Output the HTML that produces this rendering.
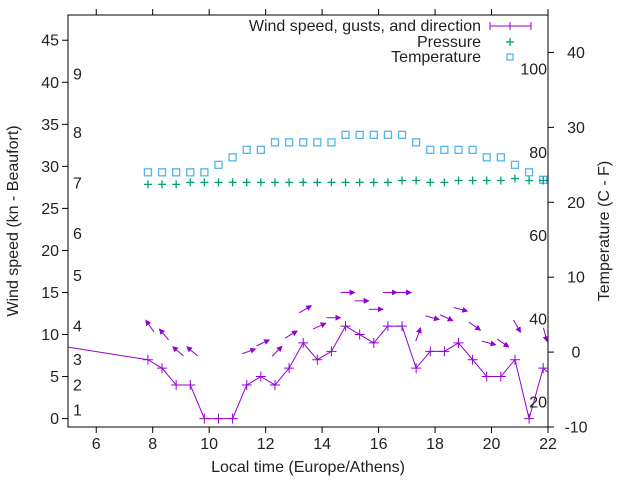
<!DOCTYPE html>
<html><head><meta charset="utf-8">
<style>
html,body{margin:0;padding:0;background:#fff;}
svg text{font-family:"Liberation Sans",sans-serif;font-size:16px;fill:#222;}
</style></head>
<body>
<svg id="chart" width="640" height="480" viewBox="0 0 640 480" xmlns="http://www.w3.org/2000/svg">
<defs>
<clipPath id="plotclip"><rect x="68" y="15" width="480" height="412"/></clipPath>
<marker id="ah" markerWidth="6" markerHeight="6" refX="5" refY="3" orient="auto" markerUnits="userSpaceOnUse">
<path d="M0,0 L6,3 L0,6 Z" fill="#9400d3"/>
</marker>
</defs>
<rect x="68" y="15" width="480" height="412" fill="none" stroke="#000" stroke-width="1"/>
<text x="308" y="472" text-anchor="middle">Local time (Europe/Athens)</text>
<text x="0" y="0" text-anchor="middle" transform="translate(18,221) rotate(-90)">Wind speed (kn - Beaufort)</text>
<text x="0" y="0" text-anchor="middle" transform="translate(609,231) rotate(-90)">Temperature (C - F)</text>
<g id="legend">
<text x="481" y="31" text-anchor="end">Wind speed, gusts, and direction</text>
<g stroke="#9400d3" stroke-width="1">
<line x1="490" y1="26" x2="531" y2="26"/><line x1="490" y1="22" x2="490" y2="30"/><line x1="531" y1="22" x2="531" y2="30"/>
<line x1="510" y1="22" x2="510" y2="30"/></g>
<text x="481" y="47" text-anchor="end">Pressure</text>
<g stroke="#009e73" stroke-width="1.3"><line x1="506" y1="42" x2="514" y2="42"/><line x1="510" y1="38" x2="510" y2="46"/></g>
<text x="481" y="62" text-anchor="end">Temperature</text>
<rect x="507" y="54" width="6" height="6" fill="none" stroke="#56b4e9" stroke-width="1.3"/>
</g>
<g id="marks" clip-path="url(#plotclip)"></g>
<g id="axes"></g>
</svg>
<script>
// ---- data ----
const times = [7.83,8.33,8.83,9.33,9.83,10.33,10.83,11.33,11.83,12.33,12.83,13.33,13.83,14.33,14.83,15.33,15.83,16.33,16.83,17.33,17.83,18.33,18.83,19.33,19.83,20.33,20.83,21.33,21.83];
const windSpeed = [7,6,4,4,0,0,0,4,5,4,6,9,7,8,11,10,9,11,11,6,8,8,9,7,5,5,7,0,6];
const gusts = [11,10,8,8,null,null,null,8,9,8,10,13,11,12,15,14,13,15,15,10,12,12,13,11,9,9,11,null,10];
const windBearing = [325,320,310,310,null,null,null,70,65,45,60,60,65,90,90,90,90,90,90,20,105,115,105,125,105,125,150,null,165];
const pressure = [1013,1013,1013,1014,1014,1014,1014,1014,1014,1014,1014,1014,1014,1014,1014,1014,1014,1014,1015,1015,1014,1014,1015,1015,1015,1015,1016,1015,1015];
const temperature = [24,24,24,24,24,25,26,27,27,28,28,28,28,28,29,29,29,29,29,28,27,27,27,27,26,26,25,24,23];
const windBefore = [4.8, 8.6];
const windAfter = [22.33, 4.5];
const xTicks = [6,8,10,12,14,16,18,20,22];
const yTicks = [0,5,10,15,20,25,30,35,40,45];
const y2Ticks = [-10,0,10,20,30,40];
const fahrenheitLabels = [20,40,60,80,100];
const beaufortLabels = [1,2,3,4,5,6,7,8,9];
const beaufortKn = [1,4,7,11,17,22,28,34,41];

// ---- scales ----
const L=68,R=548,T=15,B=427;
const X = t => L + (t-5)/(22-5)*(R-L);
const Y = v => B - (v-(-1))/(48-(-1))*(B-T);
const Y2 = c => B - (c-(-10))/(45-(-10))*(B-T);
const P = p => Y(27.86 + (p-1013)*0.23);
const NS="http://www.w3.org/2000/svg";
function mk(tag, attrs, parent){const e=document.createElementNS(NS,tag);for(const k in attrs)e.setAttribute(k,attrs[k]);parent.appendChild(e);return e;}
const marks=document.getElementById('marks'), axes=document.getElementById('axes');

xTicks.forEach(t=>{
  const g=mk('g',{},axes);
  
  
  mk('line',{x1:X(t),x2:X(t),y1:B,y2:B+6,stroke:'#000'},g);
  mk('line',{x1:X(t),x2:X(t),y1:T,y2:T-6,stroke:'#000'},g);
  const tx=mk('text',{x:X(t),y:B+22,'text-anchor':'middle'},g); tx.textContent=t;
});
yTicks.forEach(v=>{
  const g=mk('g',{},axes);
  
  
  mk('line',{x1:L-6,x2:L,y1:Y(v),y2:Y(v),stroke:'#000'},g);
  const tx=mk('text',{x:L-9,y:Y(v)+5.5,'text-anchor':'end'},g); tx.textContent=v;
});
y2Ticks.forEach(v=>{
  const g=mk('g',{},axes);
  
  
  mk('line',{x1:R,x2:R+6,y1:Y2(v),y2:Y2(v),stroke:'#000'},g);
  const tx=mk('text',{x:R+28,y:Y2(v)+5.5,'text-anchor':'middle'},g); tx.textContent=v;
});
fahrenheitLabels.forEach(f=>{
  const tx=mk('text',{x:R-1,y:Y2((f-32)*5/9)+5.5,'text-anchor':'end'},axes);
  
  
  tx.textContent=f;
});
beaufortLabels.forEach((b,i)=>{
  const tx=mk('text',{x:73,y:Y(beaufortKn[i])+5.5,'text-anchor':'start'},axes);
  
  
  tx.textContent=b;
});

times.forEach((t,i)=>{
  const r=mk('rect',{x:X(t)-3.5,y:Y2(temperature[i])-3.5,width:7,height:7,fill:'none',stroke:'#56b4e9','stroke-width':1.3},marks);
  
  
});
times.forEach((t,i)=>{
  const x=X(t),y=P(pressure[i]);
  const p=mk('path',{d:`M${x-4},${y}H${x+4}M${x},${y-4}V${y+4}`,stroke:'#009e73','stroke-width':1.3,fill:'none'},marks);
  
  
});
const pts=[[X(windBefore[0]),Y(windBefore[1])]].concat(times.map((t,i)=>[X(t),Y(windSpeed[i])])).concat([[X(windAfter[0]),Y(windAfter[1])]]);
const wl=mk('polyline',{points:pts.map(p=>p.join(',')).join(' '),fill:'none',stroke:'#9400d3','stroke-width':1},marks);


times.forEach((t,i)=>{
  const x=X(t),y=Y(windSpeed[i]);
  const p=mk('path',{d:`M${x-5},${y}H${x+5}M${x},${y-5}V${y+5}`,stroke:'#9400d3','stroke-width':1,fill:'none'},marks);
  
  
});
times.forEach((t,i)=>{
  if(gusts[i]==null||windBearing[i]==null) return;
  const cx=X(t)+2,cy=Y(gusts[i]);
  const a=(windBearing[i]-90)*Math.PI/180, h=7;
  const dx=Math.cos(a)*h, dy=Math.sin(a)*h;
  const ln=mk('line',{x1:cx-dx,y1:cy-dy,x2:cx+dx,y2:cy+dy,stroke:'#9400d3','stroke-width':1,'marker-end':'url(#ah)'},marks);
  
  
});
</script>
</body></html>
